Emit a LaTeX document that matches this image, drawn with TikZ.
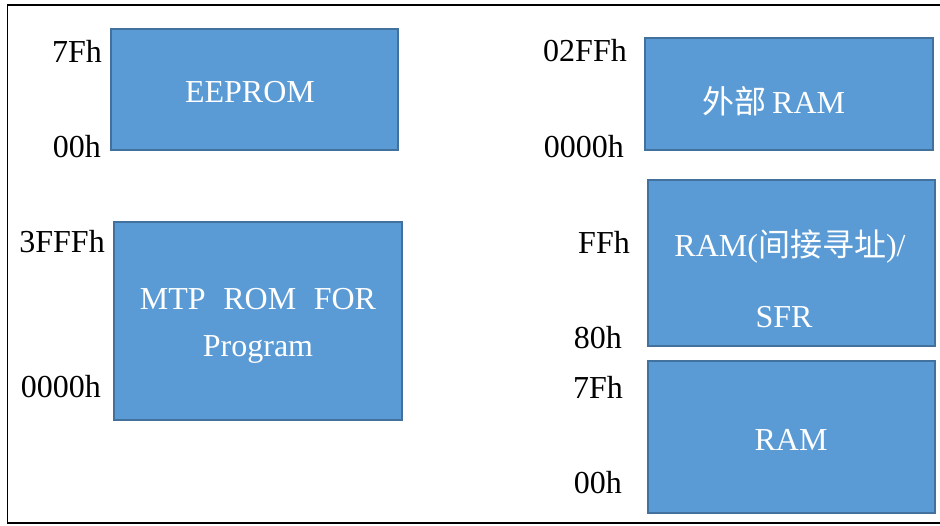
\documentclass[tikz,border=0pt]{standalone}
\usepackage{fontspec}
\setmainfont{Liberation Serif}
\newfontfamily\cjk{Noto Sans CJK SC}
\definecolor{blockfill}{HTML}{5B9BD5}
\definecolor{blockedge}{HTML}{41719C}
\begin{document}
\begin{tikzpicture}[x=1pt,y=-1pt,
  memblock/.style={draw=blockedge,line width=1.3pt,fill=blockfill},
  blocktext/.style={text=white,font=\fontsize{32}{36}\selectfont,inner sep=0pt,align=center},
  addr/.style={text=black,font=\fontsize{32}{36}\selectfont,inner sep=0pt,anchor=east}]
  \useasboundingbox (0,0) rectangle (940,525);
  \fill[white] (0,0) rectangle (940,525);
  % outer frame (right side runs off the page)
  \draw[line width=1.8pt,black] (960,5) -- (7.5,5) -- (7.5,523) -- (960,523);

  % memory blocks
  \path[memblock] (111,29) rectangle (398,150);
  \node[blocktext] (eeprom) at (250,92) {EEPROM};
  \path[memblock] (114,222) rectangle (402,420);
  \node[blocktext] (mtp) at (258,326) {MTP\hspace{0.55em}ROM\hspace{0.55em}FOR\\[11pt]Program};
  \path[memblock] (645,38) rectangle (933,150);
  \node[blocktext] (xram) at (774,101) {{\cjk 外部}\,RAM};
  \path[memblock] (648,180) rectangle (935,346);
  \node[blocktext] (sfr) at (790,246) {RAM({\cjk 间接寻址})/};
  \node[blocktext] (sfr2) at (784,317) {SFR};
  \path[memblock] (648,361) rectangle (935,513);
  \node[blocktext] (ram) at (791,440) {RAM};

  % address labels
  \node[addr] (a1) at (102,51) {7Fh};
  \node[addr] (a2) at (101,147) {00h};
  \node[addr] (a3) at (105,242) {3FFFh};
  \node[addr] (a4) at (101,387) {0000h};
  \node[addr] (a5) at (627,51) {02FFh};
  \node[addr] (a6) at (624,147) {0000h};
  \node[addr] (a7) at (630,242) {FFh};
  \node[addr] (a8) at (622,338) {80h};
  \node[addr] (a9) at (623,387) {7Fh};
  \node[addr] (a10) at (622,483) {00h};
\end{tikzpicture}
\end{document}
